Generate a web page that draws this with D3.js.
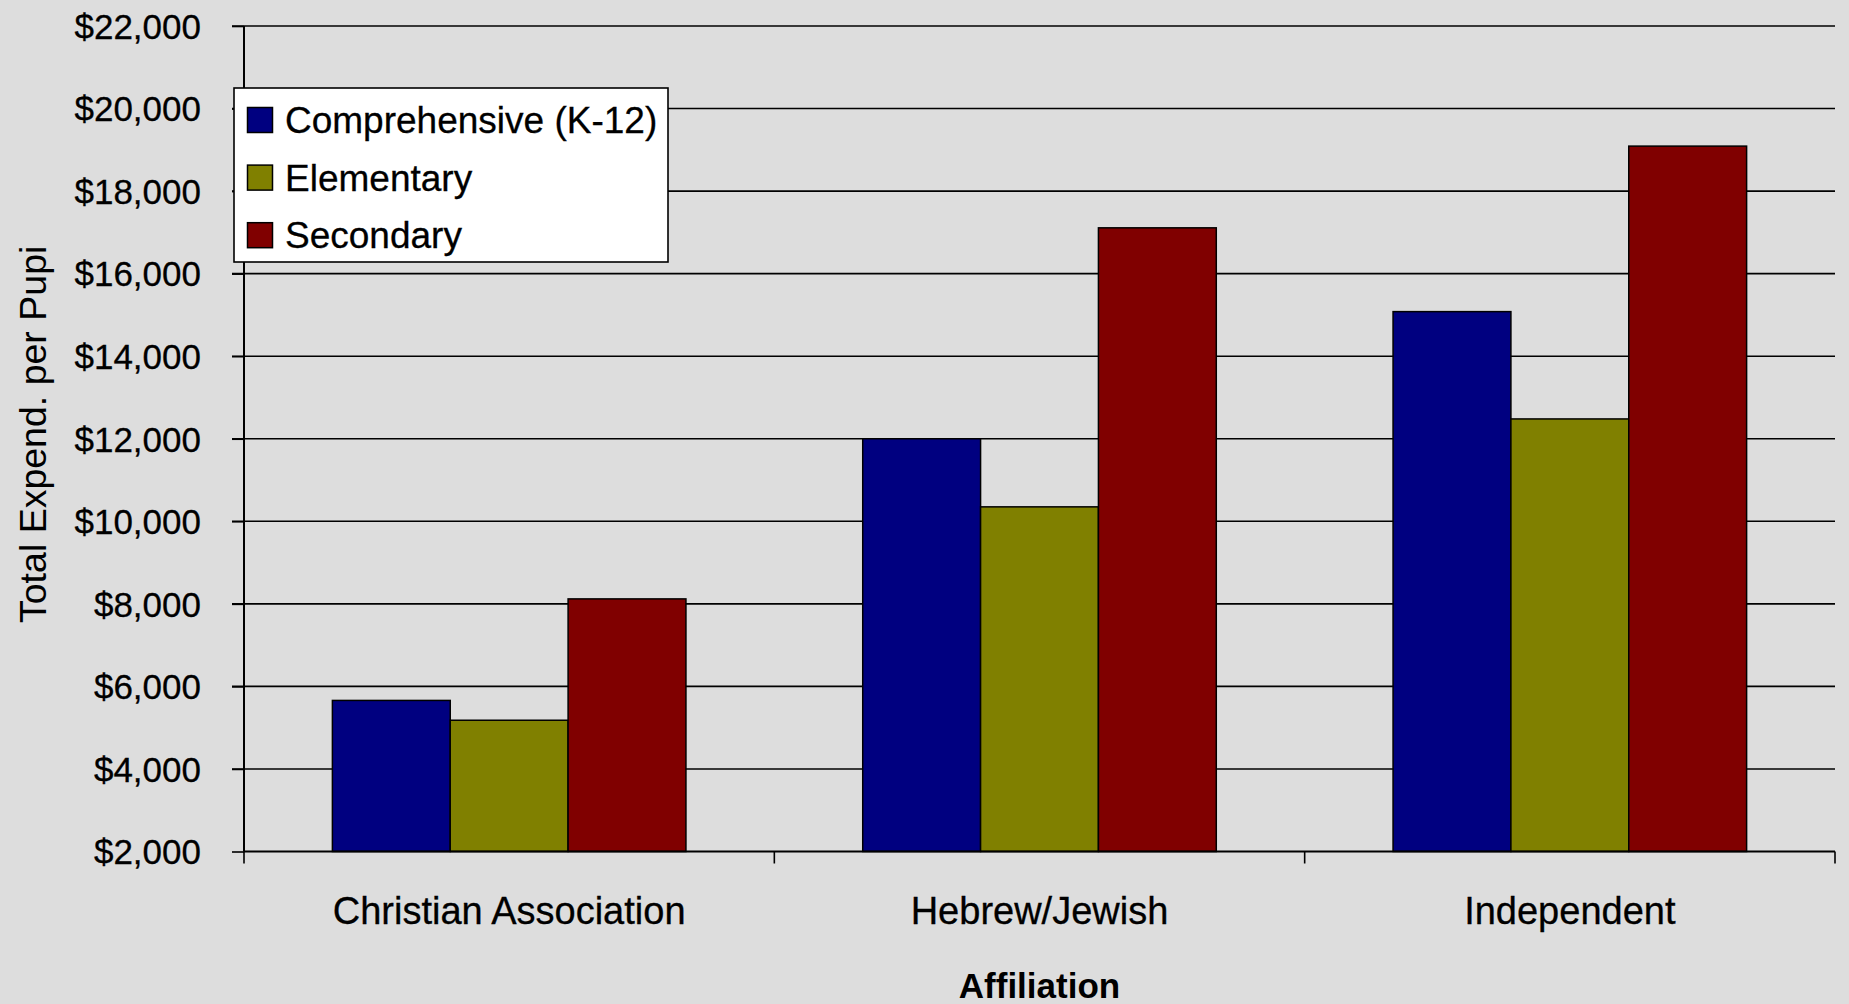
<!DOCTYPE html>
<html>
<head>
<meta charset="utf-8">
<script src="https://cdn.jsdelivr.net/npm/d3@7"></script>
<style>
  html, body { margin: 0; padding: 0; background: #dddddd; }
  svg { display: block; }
  text { font-family: "Liberation Sans", Arial, sans-serif; fill: #000; }
</style>
</head>
<body>
<svg id="chart" width="1849" height="1004"></svg>
<script>
// ---- data ----
const categories = ["Christian Association", "Hebrew/Jewish", "Independent"];
const seriesNames = ["Comprehensive (K-12)", "Elementary", "Secondary"];
const comprehensive = [5660, 12000, 15080];
const elementary    = [5180, 10350, 12480];
const secondary     = [8120, 17110, 19090];
const yTicks = [2000, 4000, 6000, 8000, 10000, 12000, 14000, 16000, 18000, 20000, 22000];
const seriesColors = ["#000080", "#808000", "#800000"];
const xTitle = "Affiliation";
const yTitle = "Total Expend. per Pupil";

const seriesValues = [comprehensive, elementary, secondary];

(function () {
// ---- layout ----
const W = 1849, H = 1004;
const pLeft = 244, pRight = 1835, pTop = 26, pBottom = 851.5;

const svg = d3.select("#chart");
svg.append("rect").attr("width", W).attr("height", H).attr("fill", "#dddddd");

const x0 = d3.scaleBand().domain(categories).range([pLeft, pRight]).padding(0);
const x1 = d3.scaleBand().domain(seriesNames).range([0, x0.bandwidth()])
  .paddingInner(0).paddingOuter(0.75);
const y = d3.scaleLinear().domain([2000, 22000]).range([pBottom, pTop]);

const fmt = v => "$" + d3.format(",")(v);

// gridlines
svg.append("g").selectAll("line").data(yTicks.filter(t => t > 2000)).join("line")
  .attr("x1", pLeft - 12).attr("x2", pRight)
  .attr("y1", d => y(d)).attr("y2", d => y(d))
  .attr("stroke", "#000").attr("stroke-width", 1.6);

// y axis
const yAxis = d3.axisLeft(y).tickValues(yTicks).tickFormat(fmt).tickSize(12).tickPadding(31);
const gy = svg.append("g").attr("transform", `translate(${pLeft},0)`).call(yAxis);
gy.select(".domain").attr("stroke", "#000").attr("stroke-width", 2).attr("d", `M0,${pTop}V${pBottom}`);
gy.selectAll(".tick line").attr("stroke", "#000").attr("stroke-width", 1.6);
gy.selectAll(".tick text").attr("font-size", 35).attr("font-family", "Liberation Sans, Arial, sans-serif")
  .attr("fill", "#000").attr("stroke", "#000").attr("stroke-width", 0.3).attr("dy", "0.35em");

// bars
const groups = svg.append("g").selectAll("g").data(categories).join("g")
  .attr("transform", d => `translate(${x0(d)},0)`);
groups.selectAll("rect")
  .data((c, ci) => seriesNames.map((s, si) => ({ s, si, v: seriesValues[si][ci] })))
  .join("rect")
  .attr("x", d => x1(d.s))
  .attr("width", x1.bandwidth())
  .attr("y", d => y(d.v))
  .attr("height", d => y(2000) - y(d.v))
  .attr("fill", d => seriesColors[d.si])
  .attr("stroke", "#000").attr("stroke-width", 1.5);

// x axis
const xTickPos = [pLeft, ...categories.map(c => x0(c) + x0.bandwidth())];
const gx = svg.append("g");
gx.append("line").attr("x1", pLeft).attr("x2", pRight).attr("y1", pBottom).attr("y2", pBottom)
  .attr("stroke", "#000").attr("stroke-width", 2.2);
gx.selectAll("line.t").data(xTickPos).join("line").attr("class", "t")
  .attr("x1", d => d).attr("x2", d => d).attr("y1", pBottom).attr("y2", pBottom + 12)
  .attr("stroke", "#000").attr("stroke-width", 1.6);
gx.selectAll("text").data(categories).join("text")
  .attr("x", d => x0(d) + x0.bandwidth() / 2).attr("y", 924)
  .attr("text-anchor", "middle").attr("font-size", 38)
  .attr("stroke", "#000").attr("stroke-width", 0.3).text(d => d);

// axis titles
svg.append("text").attr("x", (pLeft + pRight) / 2).attr("y", 998)
  .attr("text-anchor", "middle").attr("font-size", 35).attr("font-weight", "bold").text(xTitle);

const titleStart = 623;
const clipRect = svg.append("clipPath").attr("id", "ytclip").append("rect")
  .attr("x", 0).attr("y", 241).attr("width", 100).attr("height", 700);
const yt = svg.append("g").attr("clip-path", "url(#ytclip)")
  .append("text").attr("transform", `translate(46,${titleStart}) rotate(-90)`)
  .attr("text-anchor", "start").attr("font-size", 37.5).text(yTitle);
// the reference title is cut off just before its final letter
try {
  const upTo = yt.node().getSubStringLength(0, yTitle.length - 1);
  clipRect.attr("y", titleStart - upTo + 0.5);
} catch (e) {}

// legend
const lg = svg.append("g").attr("transform", "translate(234,88)");
lg.append("rect").attr("width", 434).attr("height", 174)
  .attr("fill", "#fff").attr("stroke", "#000").attr("stroke-width", 1.6);
const items = lg.selectAll("g").data(seriesNames).join("g")
  .attr("transform", (d, i) => `translate(0,${i * 57.6})`);
items.append("rect").attr("x", 13.5).attr("y", 19.5).attr("width", 25).attr("height", 25)
  .attr("fill", (d, i) => seriesColors[i]).attr("stroke", "#000").attr("stroke-width", 1.5);
items.append("text").attr("x", 51).attr("y", 45).attr("font-size", 37)
  .attr("stroke", "#000").attr("stroke-width", 0.3).text(d => d);
})();
</script>
</body>
</html>
